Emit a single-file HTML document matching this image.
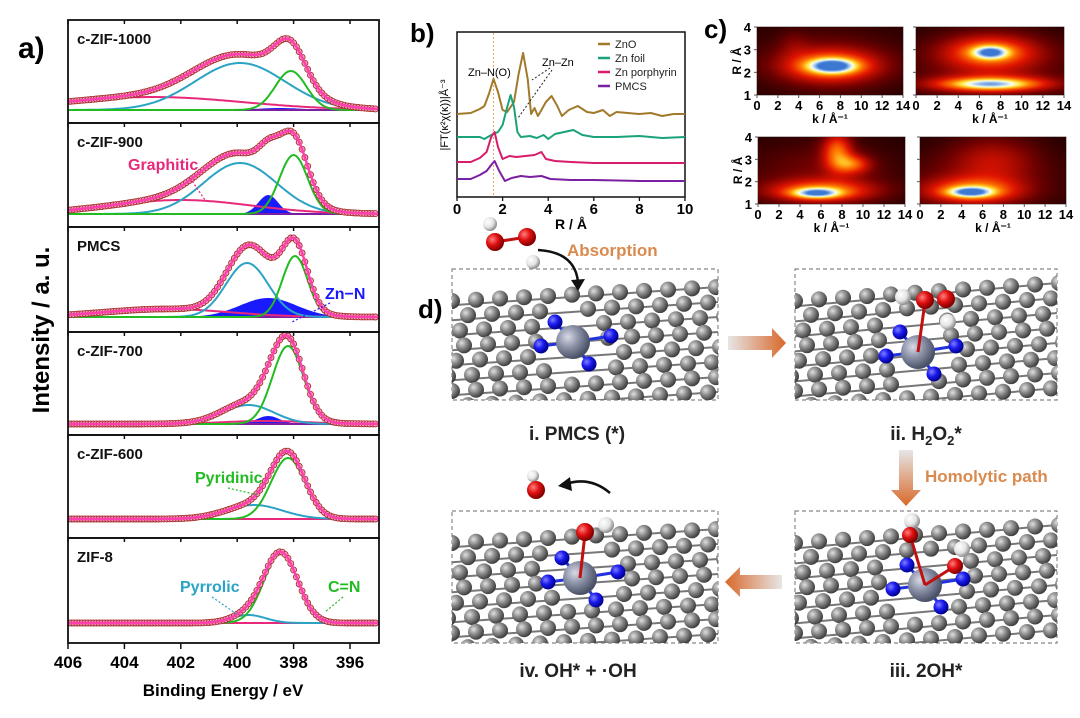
<!DOCTYPE html>
<html><head><meta charset="utf-8">
<style>
body{margin:0;background:#fff;}
svg text{font-family:"Liberation Sans",Arial,sans-serif;}
#wrap{position:relative;width:1080px;height:718px;overflow:hidden;}
canvas{position:absolute;}
</style></head>
<body>
<div id="wrap">
<svg id="s" width="1080" height="718" viewBox="0 0 1080 718">
<defs>
<radialGradient id="gC" cx="35%" cy="35%" r="65%"><stop offset="0" stop-color="#e0e0e0"/><stop offset="0.5" stop-color="#8a8a8a"/><stop offset="1" stop-color="#404040"/></radialGradient>
<radialGradient id="gN" cx="35%" cy="35%" r="65%"><stop offset="0" stop-color="#8080ff"/><stop offset="0.5" stop-color="#1a1aee"/><stop offset="1" stop-color="#000090"/></radialGradient>
<radialGradient id="gZ" cx="35%" cy="35%" r="65%"><stop offset="0" stop-color="#d8dae6"/><stop offset="0.5" stop-color="#8a90a6"/><stop offset="1" stop-color="#4a5066"/></radialGradient>
<radialGradient id="gO" cx="35%" cy="35%" r="65%"><stop offset="0" stop-color="#ff8080"/><stop offset="0.5" stop-color="#e01010"/><stop offset="1" stop-color="#800000"/></radialGradient>
<radialGradient id="gH" cx="35%" cy="35%" r="65%"><stop offset="0" stop-color="#ffffff"/><stop offset="0.6" stop-color="#e4e4e4"/><stop offset="1" stop-color="#909090"/></radialGradient>
<linearGradient id="arH" x1="0" x2="1"><stop offset="0" stop-color="#e6e6e6"/><stop offset="1" stop-color="#d8682a"/></linearGradient>
<linearGradient id="arL" x1="1" x2="0"><stop offset="0" stop-color="#e6e6e6"/><stop offset="1" stop-color="#d8682a"/></linearGradient>
<linearGradient id="arV" x1="0" x2="0" y1="0" y2="1"><stop offset="0" stop-color="#e6e6e6"/><stop offset="1" stop-color="#d8682a"/></linearGradient>
<clipPath id="cb1"><rect x="452" y="269" width="266" height="131"/></clipPath>
<clipPath id="cb2"><rect x="795" y="269" width="262" height="131"/></clipPath>
<clipPath id="cb3"><rect x="795" y="511" width="262" height="132"/></clipPath>
<clipPath id="cb4"><rect x="452" y="511" width="266" height="132"/></clipPath>
<clipPath id="cpa"><rect x="68" y="20" width="311" height="623"/></clipPath>
</defs>
<text x="18" y="58" font-size="30" font-weight="bold">a)</text>
<text x="410" y="42" font-size="26" font-weight="bold">b)</text>
<text x="704" y="38" font-size="26" font-weight="bold">c)</text>
<text x="418" y="318" font-size="26" font-weight="bold">d)</text>
<g id="ga"></g><g id="gb"></g><g id="gc"></g><g id="gd"></g>
</svg>
</div>
<script>
const NS="http://www.w3.org/2000/svg";
function mk(parent,tag,attrs,txt){const e=document.createElementNS(NS,tag);for(const k in attrs)e.setAttribute(k,attrs[k]);if(txt!==undefined)e.textContent=txt;parent.appendChild(e);return e;}

/* ---------- Panel a: XPS N1s ---------- */
const samples=['c-ZIF-1000','c-ZIF-900','PMCS','c-ZIF-700','c-ZIF-600','ZIF-8'];
const pyrrolic=[[399.9,47,1.6],[399.9,51,1.3],[399.65,54,0.75],[399.6,19,0.9],[399.4,14,1.0],[399.6,8,0.6]];
const pyridinic=[[398.1,39,0.55],[398.0,59,0.5],[397.95,61,0.45],[398.2,78,0.55],[398.2,61,0.6],[398.45,70,0.6]];
const znN=[[398.5,2,0.8],[398.9,19,0.35],[398.9,19,1.0],[398.9,8,0.4],[398.9,0,1],[398.9,0,1]];
const graphitic=[[403,13,3.2],[402,14,2.5],[402.5,8,2.2],[399,3,1.5],[399,0,1],[399,0,1]];
const beTicks=[406,404,402,400,398,396];
const panelTop=[20,123,227,332,435,538], panelBot=[123,227,332,435,538,643], baseOff=[13,13,15,11,19,20];
const ax=e=>68+(406-e)*28.2;
function g(e,p){return p[1]*Math.exp(-Math.pow(e-p[0],2)/(2*p[2]*p[2]));}
const ga=document.getElementById('ga');
const pa=mk(ga,'g',{'clip-path':'url(#cpa)'});


for(let i=0;i<6;i++){
  const b=panelBot[i]-baseOff[i];
  const ay=v=>b-v;
  const comps=[[graphitic[i],'#e8287a'],[pyrrolic[i],'#2aa3c4'],[pyridinic[i],'#22bb22']];
  let d='';
  for(let e=406.5;e>=394.8;e-=0.05){d+=(d?'L':'M')+ax(e).toFixed(1)+','+ay(g(e,znN[i])).toFixed(1);}
  d+='L'+ax(394.8)+','+b+'L'+ax(406.5)+','+b+'Z';
  const zf=mk(pa,'path',{d:d,fill:'#1a1aff',stroke:'none'});
  
  
  const bl=mk(pa,'line',{x1:68,x2:379,y1:b,y2:b,stroke:'#7a1fa0','stroke-width':2});
  
  
  comps.forEach(([p,c],j)=>{
    let dd='';for(let e=406.5;e>=394.8;e-=0.05){dd+=(dd?'L':'M')+ax(e).toFixed(1)+','+ay(g(e,p)).toFixed(1);}
    const pl=mk(pa,'path',{d:dd,fill:'none',stroke:c,'stroke-width':2});
    
    
  });
  const tot=e=>g(e,pyrrolic[i])+g(e,pyridinic[i])+g(e,znN[i])+g(e,graphitic[i]);
  for(let e=406;e>=395;e-=0.1){
    const c=mk(pa,'circle',{cx:ax(e).toFixed(1),cy:ay(tot(e)).toFixed(1),r:3,fill:'#f5a8c4',stroke:'#a83030','stroke-width':0.9});
    
    
  }
  let de='';for(let e=406.5;e>=394.8;e-=0.05){de+=(de?'L':'M')+ax(e).toFixed(1)+','+ay(tot(e)).toFixed(1);}
  const env=mk(pa,'path',{d:de,fill:'none',stroke:'#ff3eb0','stroke-width':2.5});
  
  
  const fr=mk(ga,'rect',{x:68,y:panelTop[i],width:311,height:panelBot[i]-panelTop[i],fill:'none',stroke:'#111','stroke-width':1.8});
  
  
  beTicks.forEach(t=>{mk(ga,'line',{x1:ax(t),x2:ax(t),y1:panelTop[i],y2:panelTop[i]+4,stroke:'#111','stroke-width':1.5});});
  const lb=mk(ga,'text',{x:77,y:panelTop[i]+24,'font-size':15,'font-weight':'bold',fill:'#111'},samples[i]);
  
  
}
beTicks.forEach(t=>{
  mk(ga,'line',{x1:ax(t),x2:ax(t),y1:643,y2:649,stroke:'#111','stroke-width':1.5});
  const tl=mk(ga,'text',{x:ax(t),y:668,'font-size':17,'font-weight':'bold','text-anchor':'middle'},String(t));
  
  
});
(function(){
 const t=mk(ga,'text',{x:223,y:696,'font-size':17,'font-weight':'bold','text-anchor':'middle'},'Binding Energy / eV');
 
 const y=mk(ga,'text',{x:0,y:0,'font-size':24,'font-weight':'bold','text-anchor':'middle',transform:'translate(49,330) rotate(-90)'},'Intensity / a. u.');
 
 const ann=[['Graphitic',128,170,'#e8287a',190,178,205,200],['Zn\u2212N',325,299,'#1a1aff',330,303,292,322],['Pyridinic',195,483,'#22bb22',228,488,258,495],['Pyrrolic',180,592,'#2aa3c4',212,597,238,615],['C=N',328,592,'#22bb22',343,597,325,612]];
 ann.forEach(a=>{
  mk(ga,'line',{x1:a[4],y1:a[5],x2:a[6],y2:a[7],stroke:a[3],'stroke-width':1.2,'stroke-dasharray':'2,2'});
  const tt=mk(ga,'text',{x:a[1],y:a[2],'font-size':16,'font-weight':'bold',fill:a[3]},a[0]);
  
  
 });
})();

/* ---------- Panel b: FT-EXAFS ---------- */
const rTicks=[0,2,4,6,8,10];
const seriesNames=['ZnO','Zn foil','Zn porphyrin','PMCS'];
const seriesColors=['#a07a2a','#1aa37a','#d81b6a','#7b1fa2'];
const rZnO=[0,0.6,1.0,1.2,1.4,1.6,1.8,2.0,2.2,2.5,2.7,2.9,3.1,3.25,3.4,3.55,3.7,3.9,4.15,4.4,4.6,4.9,5.3,5.7,6.0,6.4,6.7,7.0,7.5,8,8.5,9,9.5,10];
const vZnO=[0,1,5,8,20,35,22,4,2,12,40,61,35,0,6,-2,4,12,18,8,-2,4,8,2,1,4,-2,2,1,0,1,-2,0,0];
const rFoil=[0,1,1.2,1.5,1.8,2.0,2.2,2.35,2.5,2.65,2.8,3.2,3.5,3.8,4.0,4.3,4.7,5.1,5.5,6,7,8,9,10];
const vFoil=[0,0,-2,2,5,12,30,42,30,5,0,1,-1,2,-2,3,5,7,2,0,0,1,-1,0];
const rPor=[0,0.6,1.0,1.3,1.5,1.65,1.8,2.0,2.3,2.6,3.0,3.4,3.7,3.9,4.3,5,6,7,8,10];
const vPor=[0,0,4,10,25,30,15,3,6,5,6,7,10,3,1,0,-1,-1,-1,-1];
const rPm=[0,0.6,1.0,1.3,1.5,1.65,1.85,2.1,2.4,2.8,3.2,3.7,4.1,5,6,8,10];
const vPm=[0,0,4,8,14,18,8,-2,1,3,2,3,0,-1,-1,-2,-2];
const bOffsets=[114,137,162,179];
const bx=r=>457+r*22.8;
const gb=document.getElementById('gb');
(function(){
 const fr=mk(gb,'rect',{x:457,y:32,width:228,height:165,fill:'none',stroke:'#111','stroke-width':1.5});
 
 mk(gb,'line',{x1:bx(1.6),x2:bx(1.6),y1:33,y2:196,stroke:'#f0a060','stroke-width':1,'stroke-dasharray':'2,2'});
 const R=[rZnO,rFoil,rPor,rPm],V=[vZnO,vFoil,vPor,vPm];
 for(let s=0;s<4;s++){
  let d='';R[s].forEach((r,i)=>{d+=(i?'L':'M')+bx(r).toFixed(1)+','+(bOffsets[s]-V[s][i]).toFixed(1);});
  const p=mk(gb,'path',{d:d,fill:'none',stroke:seriesColors[s],'stroke-width':2,'stroke-linejoin':'round'});
  
  
  const ly=44+s*14;
  mk(gb,'line',{x1:598,x2:610,y1:ly,y2:ly,stroke:seriesColors[s],'stroke-width':2.5});
  const t=mk(gb,'text',{x:615,y:ly+4,'font-size':11,fill:'#222'},seriesNames[s]);
  
 }
 rTicks.forEach(t=>{
  mk(gb,'line',{x1:bx(t),x2:bx(t),y1:197,y2:201,stroke:'#111','stroke-width':1.3});
  const tl=mk(gb,'text',{x:bx(t),y:214,'font-size':15,'font-weight':'bold','text-anchor':'middle'},String(t));
  
 });
 const xt=mk(gb,'text',{x:571,y:229,'font-size':14,'font-weight':'bold','text-anchor':'middle'},'R / Å');
 
 const yt=mk(gb,'text',{x:0,y:0,'font-size':11,'text-anchor':'middle',transform:'translate(448,115) rotate(-90)'},'|FT(κ²χ(κ))|Å⁻³');
 
 mk(gb,'text',{x:468,y:76,'font-size':11},'Zn\u2013N(O)');
 mk(gb,'text',{x:542,y:66,'font-size':11},'Zn\u2013Zn');
 mk(gb,'line',{x1:550,y1:68,x2:532,y2:80,stroke:'#222','stroke-width':1,'stroke-dasharray':'2,2'});
 mk(gb,'line',{x1:552,y1:70,x2:518,y2:118,stroke:'#222','stroke-width':1,'stroke-dasharray':'2,2'});
})();

/* ---------- Panel c: wavelet transforms ---------- */
const kTicks=[0,2,4,6,8,10,12,14];
const RTicks=[1,2,3,4];
const wtZnO=[[7.2,2.3,0.55,1.6,0.22],[7,2.3,0.45,3.2,0.5],[7,2.5,0.15,5,1.0],[3.5,3.3,0.08,1,0.4]];
const wtFoil=[[7,2.9,0.5,1.2,0.2],[7,2.9,0.45,3.2,0.55],[7,1.5,0.45,3.0,0.18],[7,1.5,0.35,4.5,0.3],[7,2.4,0.12,6,1]];
const wtPor=[[5.5,1.5,0.5,1.6,0.16],[6,1.6,0.45,3.6,0.35],[7.5,3.4,0.42,1,0.6],[9,2.8,0.35,1.2,0.3],[6,2.4,0.15,5,1]];
const wtPm=[[4.8,1.55,0.5,1.5,0.16],[5,1.6,0.45,3.2,0.4],[7,3,0.22,3,0.8],[5,2,0.12,6,1]];
const maps=[[wtZnO,757,27,146,68,true],[wtFoil,916,27,148,68,false],[wtPor,758,137,147,67,true],[wtPm,920,137,146,67,false]];
const cmap=[[0,0,0,0],[0.2,110,0,0],[0.4,225,20,0],[0.58,255,120,0],[0.72,255,230,60],[0.82,255,255,240],[0.9,170,205,240],[1,60,120,210]];
function col(v){v=Math.max(0,Math.min(1,v));for(let i=1;i<cmap.length;i++){if(v<=cmap[i][0]){const a=cmap[i-1],b=cmap[i],t=(v-a[0])/(b[0]-a[0]);return[a[1]+(b[1]-a[1])*t,a[2]+(b[2]-a[2])*t,a[3]+(b[3]-a[3])*t];}}return cmap[cmap.length-1].slice(1);}
const gc=document.getElementById('gc');
const wrap=document.getElementById('wrap');
maps.forEach((m,mi)=>{
 const [blobs,x,y,w,h,left]=m;
 const cv=document.createElement('canvas');cv.width=w;cv.height=h;cv.style.left=x+'px';cv.style.top=y+'px';
 
 
 wrap.appendChild(cv);
 const c=cv.getContext('2d'),im=c.createImageData(w,h);
 for(let j=0;j<h;j++)for(let i=0;i<w;i++){
  const k=i/w*14,R=4-j/h*3;let v=0.06;
  blobs.forEach(b=>{v+=b[2]*Math.exp(-Math.pow(k-b[0],2)/(2*b[3]*b[3])-Math.pow(R-b[1],2)/(2*b[4]*b[4]));});
  const cc=col(v),o=(j*w+i)*4;im.data[o]=cc[0];im.data[o+1]=cc[1];im.data[o+2]=cc[2];im.data[o+3]=255;
 }
 c.putImageData(im,0,0);
 const kx=k=>x+k/14*w, ry=R=>y+h-(R-1)/3*h;
 mk(gc,'rect',{x:x,y:y,width:w,height:h,fill:'none',stroke:'#777','stroke-width':1});
 kTicks.forEach(t=>{mk(gc,'line',{x1:kx(t),x2:kx(t),y1:y+h,y2:y+h+3,stroke:'#555'});
  const tl=mk(gc,'text',{x:kx(t),y:y+h+15,'font-size':13,'font-weight':'bold','text-anchor':'middle'},String(t));
  });
 const kt=mk(gc,'text',{x:x+w/2,y:y+h+28,'font-size':12,'font-weight':'bold','text-anchor':'middle'},'k / Å⁻¹');
 
 RTicks.forEach(t=>{mk(gc,'line',{x1:x-3,x2:x,y1:ry(t),y2:ry(t),stroke:'#555'});
  if(left){const tl=mk(gc,'text',{x:x-6,y:ry(t)+5,'font-size':13,'font-weight':'bold','text-anchor':'end'},String(t));
  }});
 if(left){const rt=mk(gc,'text',{x:0,y:0,'font-size':12,'font-weight':'bold','text-anchor':'middle',transform:'translate('+(x-16)+','+(y+h/2)+') rotate(-90)'},'R / Å');
 }
});

/* ---------- Panel d: mechanism ---------- */
const gd=document.getElementById('gd');
function atom(p,x,y,r,f){return mk(p,'circle',{cx:x,cy:y,r:r,fill:'url(#'+f+')'});}
function slab(box,clip,zx,zy,tilt,name){
 const g=mk(gd,'g',{'clip-path':'url(#'+clip+')'});
 
 
 const [bx0,by0,bw,bh]=box;
 for(let r=0;r<8;r++){
  const yy=by0+32+r*15;
  const sh=(r%2)*12;
  mk(g,'line',{x1:bx0,y1:yy+tilt*0.3,x2:bx0+bw,y2:yy-tilt,stroke:'#777','stroke-width':2});
  for(let c=-1;c<12;c++){
   const xx=bx0+sh+c*24+ (r%3)*4;
   const yv=yy - tilt*(xx-bx0)/bw;
   if(Math.hypot(xx-zx,yv-zy)<34)continue;
   atom(g,xx,yv,8,'gC');
  }
 }
 [[-18,-20],[38,-6],[-32,4],[16,22]].forEach(o=>{mk(g,'line',{x1:zx,y1:zy,x2:zx+o[0],y2:zy+o[1],stroke:'#2233dd','stroke-width':3});atom(g,zx+o[0],zy+o[1],7.5,'gN');});
 atom(g,zx,zy,17,'gZ');
 return g;
}
const boxes=[[452,269,266,131],[795,269,262,131],[795,511,262,132],[452,511,266,132]];
const names=['pmcs','h2o2-adsorbed','two-oh','oh-radical'];
boxes.forEach((b,i)=>{
 const r=mk(gd,'rect',{x:b[0],y:b[1],width:b[2],height:b[3],fill:'#fff',stroke:'#888','stroke-width':1.2,'stroke-dasharray':'4,3'});
 
});
slab(boxes[0],'cb1',573,342,14,'pmcs');
const g2=slab(boxes[1],'cb2',918,352,18,'h2o2');
mk(g2,'line',{x1:918,y1:352,x2:925,y2:302,stroke:'#c01010','stroke-width':3});
atom(g2,903,297,8,'gH');atom(g2,925,300,9,'gO');atom(g2,946,299,9,'gO');atom(g2,948,322,8,'gH');
const g3=slab(boxes[2],'cb3',925,585,18,'2oh');
mk(g3,'line',{x1:925,y1:585,x2:910,y2:535,stroke:'#c01010','stroke-width':3});
mk(g3,'line',{x1:925,y1:585,x2:955,y2:566,stroke:'#c01010','stroke-width':3});
atom(g3,912,521,8,'gH');atom(g3,910,535,8,'gO');atom(g3,962,549,8,'gH');atom(g3,955,566,8,'gO');
const g4=slab(boxes[3],'cb4',580,578,14,'oh');
mk(g4,'line',{x1:580,y1:578,x2:585,y2:534,stroke:'#c01010','stroke-width':3});
atom(g4,606,525,8,'gH');atom(g4,585,532,9,'gO');
// floating molecules
mk(gd,'line',{x1:495,y1:242,x2:527,y2:237,stroke:'#c01010','stroke-width':3});
atom(gd,490,224,7,'gH');atom(gd,495,242,9,'gO');atom(gd,527,237,9,'gO');atom(gd,533,262,7,'gH');
atom(gd,533,476,6,'gH');atom(gd,536,490,9,'gO');
mk(gd,'path',{d:'M538,250 Q575,252 578,282',fill:'none',stroke:'#111','stroke-width':2.5});
mk(gd,'path',{d:'M571,280 L578,291 L585,279 Z',fill:'#111'});
mk(gd,'path',{d:'M610,493 Q590,476 566,484',fill:'none',stroke:'#111','stroke-width':2.5});
mk(gd,'path',{d:'M570,477 L558,486 L572,491 Z',fill:'#111'});
// flow arrows
mk(gd,'path',{d:'M728,336 L772,336 L772,328 L786,343 L772,358 L772,350 L728,350 Z',fill:'url(#arH)'});
mk(gd,'path',{d:'M899,450 L913,450 L913,490 L921,490 L906,506 L891,490 L899,490 Z',fill:'url(#arV)'});
mk(gd,'path',{d:'M782,575 L740,575 L740,567 L725,582 L740,597 L740,589 L782,589 Z',fill:'url(#arL)'});
const lbls=[['i. PMCS (*)',577,440],['iii. 2OH*',926,677],['iv. OH* + \u00B7OH',578,677]];
lbls.forEach(l=>{const t=mk(gd,'text',{x:l[1],y:l[2],'font-size':19,'font-weight':'bold','text-anchor':'middle',fill:'#222'},l[0]);
 });
const t2=mk(gd,'text',{x:926,y:440,'font-size':19,'font-weight':'bold','text-anchor':'middle',fill:'#222'});

t2.innerHTML='ii. H<tspan font-size="13" dy="5">2</tspan><tspan dy="-5">O</tspan><tspan font-size="13" dy="5">2</tspan><tspan dy="-5">*</tspan>';
const ab=mk(gd,'text',{x:567,y:256,'font-size':17,'font-weight':'bold',fill:'#d98a4e'},'Absorption');

const hp=mk(gd,'text',{x:925,y:482,'font-size':17,'font-weight':'bold',fill:'#d98a4e'},'Homolytic path');

</script>
</body></html>
